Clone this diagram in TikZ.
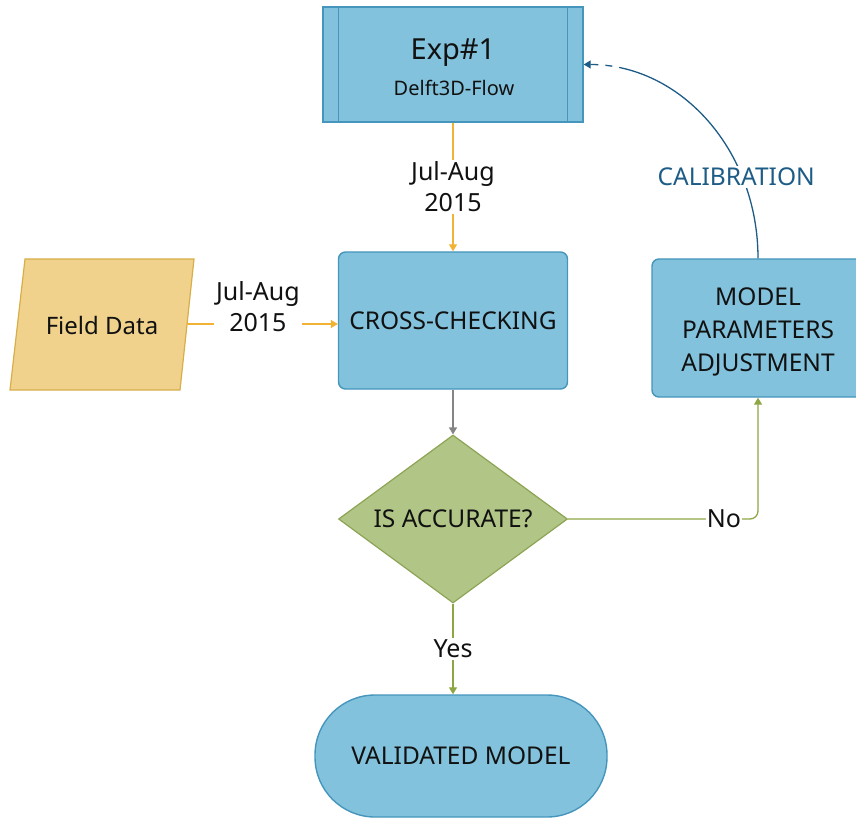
\documentclass[tikz,border=0pt]{standalone}
\usepackage{fontspec}
\setmainfont{Noto Sans}
\usetikzlibrary{shapes.geometric, arrows.meta}

\definecolor{procfill}{HTML}{83C2DC}
\definecolor{procline}{HTML}{4595BC}
\definecolor{datafill}{HTML}{F0D28D}
\definecolor{dataline}{HTML}{D8AE48}
\definecolor{decfill}{HTML}{B0C586}
\definecolor{decline}{HTML}{8DA454}
\definecolor{orangeln}{HTML}{F2B233}
\definecolor{greenln}{HTML}{8DA644}
\definecolor{grayln}{HTML}{858585}
\definecolor{calib}{HTML}{1D5C87}
\definecolor{ink}{HTML}{111111}

\tikzset{
  txt/.style={text=ink, font=\fontsize{24}{30}\selectfont, align=center, inner sep=0pt},
  procbox/.style={draw=procline, fill=procfill, line width=1.4pt, rounded corners=7pt,
    text=ink, font=\fontsize{24.5}{33}\selectfont, align=center},
  decbox/.style={draw=decline, fill=decfill, line width=1.2pt, shape=diamond,
    text=ink, font=\fontsize{24.5}{30}\selectfont, align=center, inner sep=0pt},
  databox/.style={draw=dataline, fill=datafill, line width=1.2pt},
  conn/.style={line width=1.3pt, -{Triangle[width=8pt,length=7pt]}},
  lbl/.style={fill=white, text=ink, font=\fontsize{25}{31}\selectfont, align=center, inner sep=2pt},
}

\begin{document}
\begin{tikzpicture}[x=1pt, y=-1pt]
\useasboundingbox (0,0) rectangle (856,818);
\clip (0,0) rectangle (856,818);

% model run: predefined-process box with its two inner bars
\node[procbox, rounded corners=0pt, minimum width=260pt, minimum height=115pt] (exp) at (453,64.5) {};
\draw[procline, line width=1.4pt] ([xshift=16pt]exp.north west) -- ([xshift=16pt]exp.south west)
                                  ([xshift=-16pt]exp.north east) -- ([xshift=-16pt]exp.south east);
\node[txt, font=\fontsize{29}{34}\selectfont] (exptitle) at (453,53) {Exp\#1};
\node[txt, font=\fontsize{20}{24}\selectfont] (expsub) at (454,88) {Delft3D-Flow};

% cross-checking step
\node[procbox, minimum width=229pt, minimum height=137pt] (cc) at (453,320.5) {CROSS-CHECKING};

% field data input (parallelogram)
\draw[databox] (25,259) -- (194,259) -- (180,390) -- (10,390) -- cycle;
\node[txt] (fd) at (102,325) {Field Data};
\coordinate (fdout) at (187,324);

% decision
\node[decbox, minimum width=229pt, minimum height=168pt, aspect=1.36] (dia) at (453,519) {IS ACCURATE?};

% parameter adjustment (runs past the right margin)
\node[procbox, minimum width=212pt, minimum height=138pt] (mp) at (758,328) {};
\node[txt, font=\fontsize{24.5}{33}\selectfont] (mptext) at (758,332) {MODEL\\PARAMETERS\\ADJUSTMENT};

% terminal
\node[procbox, rounded corners=60pt, minimum width=292pt, minimum height=122pt] (val) at (461,756)
  {VALIDATED MODEL};

% connectors
\draw[conn, orangeln] (exp.south) -- node[lbl] {Jul-Aug\\2015} (cc.north);
\draw[conn, orangeln] (fdout) -- node[lbl, pos=0.47, yshift=17pt] {Jul-Aug\\2015} (fdout -| cc.west);
\draw[conn, grayln] (cc.south) -- (dia.north);
\draw[conn, greenln, rounded corners=8pt] (dia.east) -- node[lbl, pos=0.82, inner sep=1pt] {No}
  (dia.east -| mp.south) -- (mp.south);
\draw[conn, greenln] (dia.south) -- node[lbl] {Yes} (dia.south |- val.north);

% calibration loop back to the model run
\draw[line width=1.3pt, calib, {Triangle[width=8pt,length=7pt]}-,
      dash pattern=on 8pt off 7pt on 7pt off 7pt on 2000pt]
  (exp.east) .. controls +(97,0) and +(0,-108) ..
  node[pos=0.73, xshift=-6pt, fill=white, text=calib, font=\fontsize{24.5}{30}\selectfont, inner sep=2pt] {CALIBRATION}
  (mp.north);
\end{tikzpicture}
\end{document}
